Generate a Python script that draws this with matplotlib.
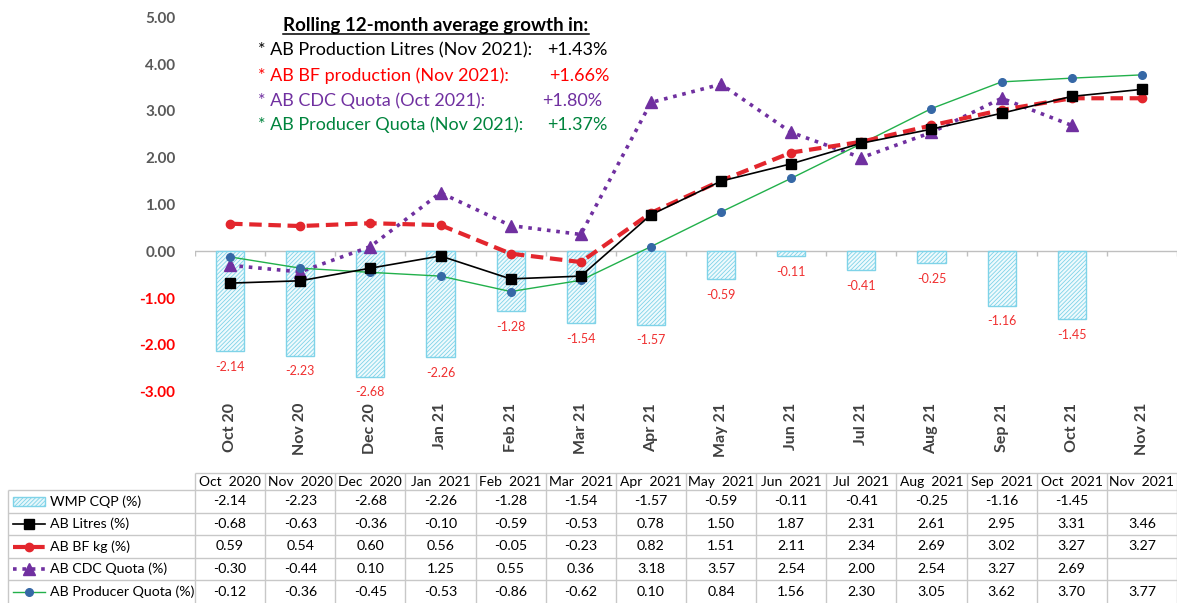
import numpy as np
import matplotlib
matplotlib.use('Agg')
import matplotlib.pyplot as plt
from matplotlib.patches import Rectangle

plt.rcParams['font.family'] = ['Lato', 'DejaVu Sans']
plt.rcParams['hatch.linewidth'] = 0.6

months = ['Oct 20', 'Nov 20', 'Dec 20', 'Jan 21', 'Feb 21', 'Mar 21', 'Apr 21',
          'May 21', 'Jun 21', 'Jul 21', 'Aug 21', 'Sep 21', 'Oct 21', 'Nov 21']
table_heads = ['Oct  2020', 'Nov  2020', 'Dec  2020', 'Jan  2021', 'Feb  2021', 'Mar  2021',
               'Apr  2021', 'May  2021', 'Jun  2021', 'Jul  2021', 'Aug  2021', 'Sep  2021',
               'Oct  2021', 'Nov  2021']
nan = np.nan
wmp_cqp = [-2.14, -2.23, -2.68, -2.26, -1.28, -1.54, -1.57, -0.59, -0.11, -0.41, -0.25, -1.16, -1.45, nan]
ab_litres = [-0.68, -0.63, -0.36, -0.10, -0.59, -0.53, 0.78, 1.50, 1.87, 2.31, 2.61, 2.95, 3.31, 3.46]
ab_bf = [0.59, 0.54, 0.60, 0.56, -0.05, -0.23, 0.82, 1.51, 2.11, 2.34, 2.69, 3.02, 3.27, 3.27]
ab_cdc = [-0.30, -0.44, 0.10, 1.25, 0.55, 0.36, 3.18, 3.57, 2.54, 2.00, 2.54, 3.27, 2.69, nan]
ab_prod = [-0.12, -0.36, -0.45, -0.53, -0.86, -0.62, 0.10, 0.84, 1.56, 2.30, 3.05, 3.62, 3.70, 3.77]

series_names = ['WMP CQP (%)', 'AB Litres (%)', 'AB BF kg (%)', 'AB CDC Quota (%)', 'AB Producer Quota (%)']

growth_labels = ['* AB Production Litres (Nov 2021):', '* AB BF production (Nov 2021):',
                 '* AB CDC Quota (Oct 2021):', '* AB Producer Quota (Nov 2021):']
growth_values = ['+1.43%', '+1.66%', '+1.80%', '+1.37%']

W, H = 1178, 603
fig = plt.figure(figsize=(W / 100, H / 100), dpi=100)

x = np.arange(len(months))
bar_edge = '#7FD3E8'
bar_fill = '#EFFAFD'
c_litres = 'black'
c_bf = '#E3262D'
c_cdc = '#7030A0'
c_prod_line = '#22B04B'
c_prod_mk = '#3668A6'

# ---- main chart
ax = fig.add_axes([195 / W, 1 - 391.7 / H, 982 / W, 374.4 / H])
ax.set_xlim(-0.5, len(months) - 0.5)
ax.set_ylim(-3, 5)

ax.bar(x, wmp_cqp, width=0.4, facecolor=bar_fill, edgecolor=bar_edge, hatch='////////',
       linewidth=1.0, zorder=1)
for xi, v in zip(x, wmp_cqp):
    if not np.isnan(v):
        ax.annotate('%.2f' % v, (xi, v), xytext=(0, -7), textcoords='offset points',
                    ha='center', va='top', fontsize=9, color='#F03030')

# zero line with category ticks
ax.axhline(0, color='#BFBFBF', lw=1, zorder=0.5)
ax.vlines(np.arange(-0.5, len(months)), 0, -0.09, color='#BFBFBF', lw=1, zorder=0.5)

ax.plot(x, ab_cdc, color=c_cdc, ls=(0, (1, 1.6)), lw=2.6, marker='^', ms=8.5,
        mfc=c_cdc, mec=c_cdc, zorder=3)
ax.plot(x, ab_prod, color=c_prod_line, lw=1.0, marker='o', ms=5.5,
        mfc=c_prod_mk, mec=c_prod_mk, zorder=4)
ax.plot(x, ab_bf, color=c_bf, ls=(0, (3, 1.6)), lw=3.0, marker='o', ms=6,
        mfc=c_bf, mec=c_bf, zorder=5)
ax.plot(x, ab_litres, color=c_litres, lw=1.2, marker='s', ms=7.5,
        mfc=c_litres, mec=c_litres, zorder=6)

for s in ax.spines.values():
    s.set_visible(False)
ax.set_xticks(x)
ax.set_xticklabels(months, rotation=90, fontsize=11.5, fontweight='bold', color='#404040')
ax.tick_params(axis='x', length=0, pad=8)
yt = np.arange(-3, 6, 1)
ax.set_yticks(yt)
ax.set_yticklabels(['%.2f' % v for v in yt], fontsize=11, fontweight='bold')
ax.tick_params(axis='y', length=0, pad=14)
for lab, v in zip(ax.get_yticklabels(), yt):
    lab.set_color('#FF0000' if v < 0 else '#595959')

# ---- annotation block
title = fig.text(436 / W, 1 - 26 / H, 'Rolling 12-month average growth in:', ha='center',
                 va='center', fontsize=13.5, fontweight='bold', color='black')
fig.canvas.draw()
bb = title.get_window_extent(fig.canvas.get_renderer())
fig.add_artist(plt.Line2D([bb.x0 / W, bb.x1 / W], [(bb.y0 + 1) / H, (bb.y0 + 1) / H],
                          color='black', lw=1.1))

g_colors = ['black', '#FF0000', '#7030A0', '#00843D']
g_y = [50, 76, 101, 125]
g_vx = [547, 549, 542, 547]
for lab, val, col, yy, vx in zip(growth_labels, growth_values, g_colors, g_y, g_vx):
    fig.text(258 / W, 1 - yy / H, lab, ha='left', va='center', fontsize=13.0, color=col)
    fig.text(vx / W, 1 - yy / H, val, ha='left', va='center', fontsize=13.0, color=col)

# ---- data table
step = 982 / len(months)
left_cat = -0.5 - (195 - 5) / step
axt = fig.add_axes([5 / W, 0, 1172 / W, 131 / H])
axt.set_xlim(left_cat, len(months) - 0.5)
axt.set_ylim(603, 472)
axt.axis('off')

def px2cat(px):
    return (px - 230) / step

grid_c = '#C8C8C8'
row_lines = [490, 512.6, 535.2, 557.8, 580.4]
axt.hlines(472.5, -0.5, len(months) - 0.5, color=grid_c, lw=1)
axt.hlines(row_lines, px2cat(8), len(months) - 0.5, color=grid_c, lw=1)
axt.vlines(np.arange(-0.5, len(months)), 472.5, 603, color=grid_c, lw=1)
axt.vlines(px2cat(8), 490, 603, color=grid_c, lw=1)

for xi, hd in zip(x, table_heads):
    axt.text(xi, 481.5, hd, ha='center', va='center', fontsize=10, color='black')

rows = [wmp_cqp, ab_litres, ab_bf, ab_cdc, ab_prod]
row_mid = [501.3, 523.9, 546.5, 569.1, 591.7]
for vals, ym in zip(rows, row_mid):
    for xi, v in zip(x, vals):
        if not np.isnan(v):
            axt.text(xi, ym, '%.2f' % v, ha='center', va='center', fontsize=10.2, color='black')

# legend keys in first column
s0, s1, sm = px2cat(13), px2cat(45), px2cat(29)
axt.add_patch(Rectangle((s0, 497), s1 - s0, 8.5, facecolor='#E6F7FB', edgecolor=bar_edge,
                        hatch='////////', lw=1.0))
axt.plot([s0, s1], [row_mid[1]] * 2, color=c_litres, lw=1.2)
axt.plot([sm], [row_mid[1]], marker='s', ms=7, color=c_litres)
axt.plot([s0, s1], [row_mid[2]] * 2, color=c_bf, lw=3.0, ls=(0, (3, 1.6)))
axt.plot([sm], [row_mid[2]], marker='o', ms=6, color=c_bf)
axt.plot([s0, s1], [row_mid[3]] * 2, color=c_cdc, lw=2.6, ls=(0, (1, 1.6)))
axt.plot([sm], [row_mid[3]], marker='^', ms=8, color=c_cdc)
axt.plot([s0, s1], [row_mid[4]] * 2, color=c_prod_line, lw=1.0)
axt.plot([sm], [row_mid[4]], marker='o', ms=5.5, color=c_prod_mk)

for name, ym in zip(series_names, row_mid):
    axt.text(px2cat(50), ym, name, ha='left', va='center', fontsize=10.2, color='black')

fig.savefig('out.png', dpi=100)
